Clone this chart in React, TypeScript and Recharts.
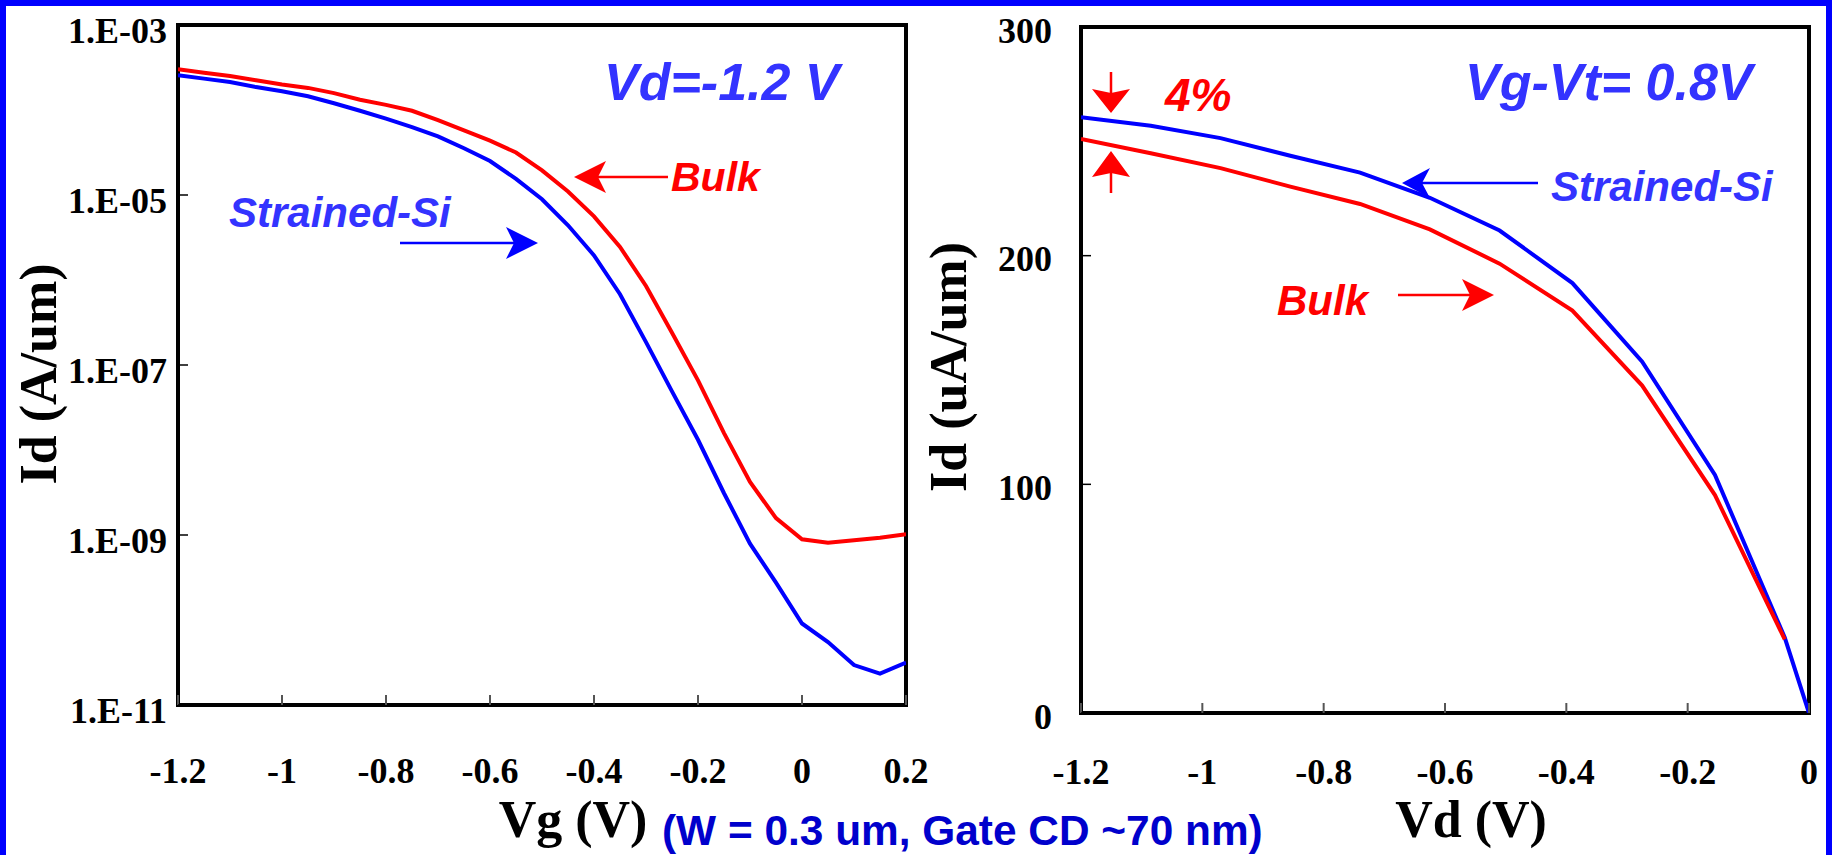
import React from 'react';
import { LineChart, Line, XAxis, YAxis, ReferenceArea } from 'recharts';

// Id-Vg (log scale), Vd = -1.2 V
const vg = [
  -1.2, -1.15, -1.1, -1.05, -1.0, -0.95, -0.9, -0.85, -0.8, -0.75, -0.7, -0.65, -0.6, -0.55, -0.5,
  -0.45, -0.4, -0.35, -0.3, -0.25, -0.2, -0.15, -0.1, -0.05, 0, 0.05, 0.1, 0.15, 0.2,
];
const idBulkVg = [
  3.02e-4, 2.75e-4, 2.51e-4, 2.24e-4, 2.0e-4, 1.82e-4, 1.58e-4, 1.32e-4, 1.15e-4, 9.8e-5, 7.6e-5,
  5.75e-5, 4.37e-5, 3.16e-5, 1.95e-5, 1.1e-5, 5.6e-6, 2.45e-6, 8.5e-7, 2.4e-7, 6.6e-8, 1.58e-8,
  4.2e-9, 1.58e-9, 8.9e-10, 8.1e-10, 8.7e-10, 9.3e-10, 1.02e-9,
];
const idStrainedVg = [
  2.57e-4, 2.34e-4, 2.14e-4, 1.86e-4, 1.66e-4, 1.45e-4, 1.2e-4, 9.8e-5, 7.9e-5, 6.3e-5, 4.9e-5,
  3.55e-5, 2.51e-5, 1.55e-5, 8.9e-6, 4.4e-6, 1.95e-6, 6.8e-7, 1.86e-7, 4.9e-8, 1.32e-8, 3.1e-9,
  7.9e-10, 2.75e-10, 9.1e-11, 5.5e-11, 2.95e-11, 2.34e-11, 3.16e-11,
];
const vgTicks = [-1.2, -1, -0.8, -0.6, -0.4, -0.2, 0, 0.2];
const vgTickLabels = ['-1.2', '-1', '-0.8', '-0.6', '-0.4', '-0.2', '0', '0.2'];
const idLogTicks = [1e-11, 1e-9, 1e-7, 1e-5, 1e-3];
const idLogTickLabels = ['1.E-11', '1.E-09', '1.E-07', '1.E-05', '1.E-03'];

// Id-Vd (uA/um), Vg-Vt = 0.8 V
const vd = [-1.2, -1.085, -0.97, -0.855, -0.74, -0.625, -0.51, -0.39, -0.275, -0.155, -0.04, 0];
const idBulkVd = [251.0, 244.8, 238.3, 230.2, 222.6, 211.5, 196.5, 176.0, 143.2, 95.3, 32.2, null];
const idStrainedVd = [260.5, 256.8, 251.4, 243.7, 236.3, 225.3, 211.0, 188.0, 153.6, 104.1, 33.0, 0];
const vdTicks = [-1.2, -1, -0.8, -0.6, -0.4, -0.2, 0];
const vdTickLabels = ['-1.2', '-1', '-0.8', '-0.6', '-0.4', '-0.2', '0'];
const idLinTicks = [0, 100, 200, 300];
const idLinTickLabels = ['0', '100', '200', '300'];

const SERIF = '"Liberation Serif", "Times New Roman", serif';
const SANS = '"Liberation Sans", Arial, sans-serif';
const RED = '#FF0000';
const BLUE = '#0000FF';
const TEXT_BLUE = '#3333FF';

const vgRows = vg.map((v, i) => ({ v, bulk: idBulkVg[i], strained: idStrainedVg[i] }));
const vdRows = vd.map((v, i) => ({ v, bulk: idBulkVd[i], strained: idStrainedVd[i] }));

function xTick(values: number[], labels: string[]) {
  return (props: any) => {
    const { x, y, payload } = props;
    const i = values.indexOf(payload.value);
    return (
      <text x={x} y={y} textAnchor="middle" fontFamily={SERIF} fontWeight="bold" fontSize={36} fill="#000">
        {i >= 0 ? labels[i] : payload.value}
      </text>
    );
  };
}

function yTick(values: number[], labels: string[], dy: number) {
  return (props: any) => {
    const { x, y, payload } = props;
    const i = values.indexOf(payload.value);
    return (
      <text x={x} y={y + dy} textAnchor="end" fontFamily={SERIF} fontWeight="bold" fontSize={36} fill="#000">
        {i >= 0 ? labels[i] : payload.value}
      </text>
    );
  };
}

function Arrow({ from, to, color, len = 32, half = 16, notch = 8, width = 2.5 }: any) {
  const [x1, y1] = from;
  const [x2, y2] = to;
  const d = Math.hypot(x2 - x1, y2 - y1);
  const ux = (x2 - x1) / d;
  const uy = (y2 - y1) / d;
  const px = -uy;
  const py = ux;
  const bx = x2 - ux * len;
  const by = y2 - uy * len;
  const nx = x2 - ux * (len - notch);
  const ny = y2 - uy * (len - notch);
  return (
    <g>
      <line x1={x1} y1={y1} x2={nx} y2={ny} stroke={color} strokeWidth={width} />
      <path
        d={`M${x2},${y2} L${bx + px * half},${by + py * half} L${nx},${ny} L${bx - px * half},${by - py * half} Z`}
        fill={color}
      />
    </g>
  );
}

function Note({ x, y, size, color, children }: any) {
  return (
    <text x={x} y={y} fontFamily={SANS} fontWeight="bold" fontStyle="italic" fontSize={size} fill={color}>
      {children}
    </text>
  );
}

export default function App() {
  return (
    <div style={{ position: 'absolute', left: 0, top: 0, width: 1832, height: 855, background: '#fff', overflow: 'hidden' }}>
      <div style={{ position: 'absolute', left: 0, top: 0 }}>
        <LineChart width={940} height={855} data={vgRows} margin={{ top: 25, right: 34, left: 0, bottom: 0 }}>
          <XAxis
            dataKey="v"
            type="number"
            domain={[-1.2, 0.2]}
            ticks={vgTicks}
            height={150}
            axisLine={false}
            tickSize={-10}
            tickMargin={88}
            tickLine={{ stroke: '#555', strokeWidth: 2 }}
            tick={xTick(vgTicks, vgTickLabels)}
            allowDataOverflow
          />
          <YAxis
            type="number"
            scale="log"
            domain={[1e-11, 1e-3]}
            ticks={idLogTicks}
            width={178}
            axisLine={false}
            tickSize={-10}
            tickMargin={21}
            tickLine={{ stroke: '#000', strokeWidth: 1.5 }}
            tick={yTick(idLogTicks, idLogTickLabels, 18)}
            allowDataOverflow
          />
          <Line dataKey="strained" stroke={BLUE} strokeWidth={4} dot={false} type="linear" isAnimationActive={false} />
          <Line dataKey="bulk" stroke={RED} strokeWidth={4} dot={false} type="linear" isAnimationActive={false} />
          <ReferenceArea x1={-1.2} x2={0.2} y1={1e-11} y2={1e-3} fill="none" stroke="#000" strokeWidth={4} />
        </LineChart>
      </div>
      <div style={{ position: 'absolute', left: 900, top: 0 }}>
        <LineChart width={932} height={855} data={vdRows} margin={{ top: 27, right: 23, left: 0, bottom: 0 }}>
          <XAxis
            dataKey="v"
            type="number"
            domain={[-1.2, 0]}
            ticks={vdTicks}
            height={142}
            axisLine={false}
            tickSize={-10}
            tickMargin={81}
            tickLine={{ stroke: '#555', strokeWidth: 2 }}
            tick={xTick(vdTicks, vdTickLabels)}
            allowDataOverflow
          />
          <YAxis
            type="number"
            domain={[0, 300]}
            ticks={idLinTicks}
            width={181}
            axisLine={false}
            tickSize={-10}
            tickMargin={39}
            tickLine={{ stroke: '#000', strokeWidth: 1.5 }}
            tick={yTick(idLinTicks, idLinTickLabels, 15.5)}
            allowDataOverflow
          />
          <Line dataKey="strained" stroke={BLUE} strokeWidth={4} dot={false} type="linear" isAnimationActive={false} />
          <Line dataKey="bulk" stroke={RED} strokeWidth={4} dot={false} type="linear" isAnimationActive={false} />
          <ReferenceArea x1={-1.2} x2={0} y1={0} y2={300} fill="none" stroke="#000" strokeWidth={4} />
        </LineChart>
      </div>

      <svg width={1832} height={855} style={{ position: 'absolute', left: 0, top: 0, pointerEvents: 'none' }}>
        {/* frame */}
        <rect x={0} y={0} width={1832} height={6} fill="#0000FF" />
        <rect x={0} y={0} width={6} height={855} fill="#0000FF" />
        <rect x={1826} y={0} width={6} height={855} fill="#0000FF" />

        {/* axis titles */}
        <text transform="translate(56,374) rotate(-90)" textAnchor="middle" fontFamily={SERIF} fontWeight="bold" fontSize={52} fill="#000">
          Id (A/um)
        </text>
        <text transform="translate(966,367) rotate(-90)" textAnchor="middle" fontFamily={SERIF} fontWeight="bold" fontSize={52} fill="#000">
          Id (uA/um)
        </text>
        <text x={573} y={837} textAnchor="middle" fontFamily={SERIF} fontWeight="bold" fontSize={52} fill="#000">
          Vg (V)
        </text>
        <text x={1471} y={837} textAnchor="middle" fontFamily={SERIF} fontWeight="bold" fontSize={52} fill="#000">
          Vd (V)
        </text>
        <text x={662} y={845} fontFamily={SANS} fontWeight="bold" fontSize={42.4} fill="#0000CC">
          (W = 0.3 um, Gate CD ~70 nm)
        </text>

        {/* left panel notes */}
        <Note x={604} y={100} size={52} color={TEXT_BLUE}>Vd=-1.2 V</Note>
        <Note x={671} y={191} size={41} color={RED}>Bulk</Note>
        <Arrow from={[668, 177]} to={[574, 177]} color={RED} />
        <Note x={229} y={227} size={42} color={TEXT_BLUE}>Strained-Si</Note>
        <Arrow from={[400, 243]} to={[538, 243]} color={BLUE} />

        {/* right panel notes */}
        <Note x={1465} y={100} size={52} color={TEXT_BLUE}>Vg-Vt= 0.8V</Note>
        <Note x={1165} y={111} size={46} color={RED}>4%</Note>
        <Arrow from={[1111, 72]} to={[1111, 113]} color={RED} len={24} half={19} notch={4} />
        <Arrow from={[1111, 193]} to={[1111, 151]} color={RED} len={26} half={19} notch={4} />
        <Note x={1551} y={201} size={42} color={TEXT_BLUE}>Strained-Si</Note>
        <Arrow from={[1538, 183]} to={[1402, 183]} color={BLUE} len={28} half={15} />
        <Note x={1277} y={315} size={42} color={RED}>Bulk</Note>
        <Arrow from={[1398, 295]} to={[1494, 295]} color={RED} />
      </svg>
    </div>
  );
}
